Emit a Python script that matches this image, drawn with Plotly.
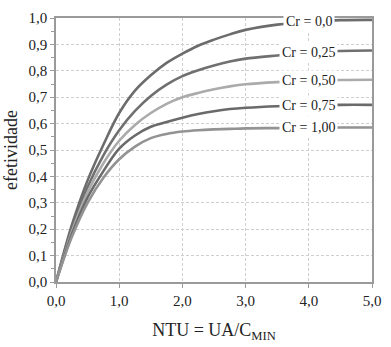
import plotly.graph_objects as go

# Effectiveness vs NTU for several heat-capacity ratios (Cr)
ntu = [0.0, 0.25, 0.5, 0.75, 1.0, 1.25, 1.5, 1.75, 2.0, 2.25, 2.5, 2.75, 3.0, 3.5, 4.0, 4.5, 5.0]

eff_cr_000 = [0.0, 0.215, 0.385, 0.52, 0.64, 0.725, 0.783, 0.83, 0.865, 0.895, 0.918, 0.938, 0.955, 0.975, 0.986, 0.992, 0.993]
eff_cr_025 = [0.0, 0.20, 0.36, 0.48, 0.575, 0.648, 0.705, 0.748, 0.78, 0.802, 0.82, 0.835, 0.846, 0.858, 0.868, 0.875, 0.877]
eff_cr_050 = [0.0, 0.19, 0.34, 0.45, 0.535, 0.595, 0.64, 0.675, 0.70, 0.716, 0.73, 0.741, 0.749, 0.757, 0.762, 0.765, 0.766]
eff_cr_075 = [0.0, 0.18, 0.32, 0.42, 0.505, 0.555, 0.588, 0.606, 0.622, 0.636, 0.647, 0.655, 0.66, 0.666, 0.669, 0.671, 0.671]
eff_cr_100 = [0.0, 0.17, 0.30, 0.395, 0.465, 0.513, 0.545, 0.561, 0.57, 0.575, 0.578, 0.58, 0.582, 0.583, 0.584, 0.585, 0.585]

series_names = ["Cr = 0,0", "Cr = 0,25", "Cr = 0,50", "Cr = 0,75", "Cr = 1,00"]
series_values = [eff_cr_000, eff_cr_025, eff_cr_050, eff_cr_075, eff_cr_100]
series_colors = ["#6c6c6c", "#707070", "#ababab", "#6a6a6a", "#939393"]

x_ticks = [0, 1, 2, 3, 4, 5]
x_ticktext = ["0,0", "1,0", "2,0", "3,0", "4,0", "5,0"]
y_ticks = [i / 10 for i in range(11)]
y_ticktext = ["0,0", "0,1", "0,2", "0,3", "0,4", "0,5", "0,6", "0,7", "0,8", "0,9", "1,0"]

label_x = 4.0

serif = "Liberation Serif"

fig = go.Figure()
for name, vals, col in zip(series_names, series_values, series_colors):
    fig.add_trace(go.Scatter(
        x=ntu, y=vals, mode="lines", name=name,
        line=dict(color=col, width=2.6, shape="spline", smoothing=1.0),
        showlegend=False, hoverinfo="skip",
    ))
    fig.add_annotation(
        x=label_x, y=vals[ntu.index(label_x)], text=name, showarrow=False,
        font=dict(family=serif, size=14, color="#222222"),
        bgcolor="white", borderpad=2, xanchor="center", yanchor="middle",
    )

axis_common = dict(
    showline=True, linecolor="#9a9a9a", linewidth=1.5, mirror=True,
    showgrid=True, gridcolor="#cfcfcf", gridwidth=1, griddash="3px,2px",
    zeroline=False, ticks="outside", tickcolor="#9a9a9a", ticklen=4,
    tickfont=dict(family=serif, size=15, color="#222222"),
)

fig.update_xaxes(
    range=[0, 5], tickvals=x_ticks, ticktext=x_ticktext,
    title=dict(text="NTU = UA/C<sub>MIN</sub>", font=dict(family=serif, size=18, color="#222222"), standoff=16),
    **axis_common,
)
fig.update_yaxes(
    range=[0, 1.0], tickvals=y_ticks, ticktext=y_ticktext,
    title=dict(text="efetividade", font=dict(family=serif, size=18, color="#222222"), standoff=6),
    minor=dict(ticks="outside", dtick=0.05, ticklen=3, tickcolor="#9a9a9a", showgrid=False),
    **axis_common,
)

fig.update_layout(
    width=391, height=347,
    margin=dict(l=55, r=11, t=10, b=55),
    paper_bgcolor="white", plot_bgcolor="white",
)

fig.write_html("out.html")
